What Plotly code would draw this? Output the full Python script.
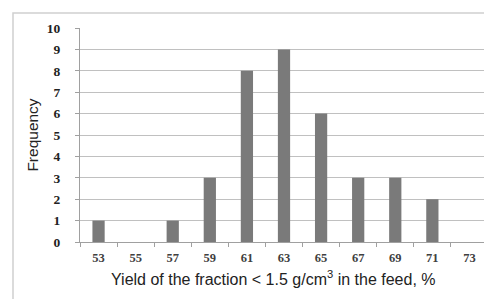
import plotly.graph_objects as go

categories = ["53", "55", "57", "59", "61", "63", "65", "67", "69", "71", "73"]
frequency = [1, 0, 1, 3, 8, 9, 6, 3, 3, 2, 0]
y_ticks = list(range(0, 11))
x_title = "Yield of the fraction < 1.5 g/cm<sup>3</sup> in the feed, %"

fig = go.Figure()
fig.add_trace(go.Bar(
    x=categories, y=frequency,
    marker=dict(color="#7a7a7a", line=dict(width=0)),
    width=0.33,
))

W, H = 492, 299
l, r, t, b = 72, 12, 20, 65
pw, ph = W - l - r, H - t - b

def px(p):
    return (p - l) / pw

def py(q):
    return (H - b - q) / ph

fig.add_shape(type="rect", xref="paper", yref="paper",
              x0=px(5), x1=px(488), y0=py(292), y1=py(5),
              line=dict(color="#d0d0d0", width=1.5), fillcolor="rgba(0,0,0,0)", layer="below")

fig.add_annotation(text=x_title, xref="paper", yref="paper", x=px(265), y=py(270),
                   xanchor="center", yanchor="middle", showarrow=False,
                   font=dict(family="Liberation Sans", size=16, color="#222"))

fig.update_layout(
    width=W, height=H,
    margin=dict(l=l, r=r, t=t, b=b),
    paper_bgcolor="white", plot_bgcolor="white",
    showlegend=False,
    xaxis=dict(
        type="category", tickson="boundaries", ticks="outside", ticklen=4,
        tickcolor="#a0a0a0", showline=True, linecolor="#a0a0a0", linewidth=1,
        showgrid=False, ticklabelstandoff=4,
        tickfont=dict(family="Liberation Serif", size=12.5, color="#404040", weight="bold"),
    ),
    yaxis=dict(
        range=[0, 10], tickvals=y_ticks, ticks="outside", ticklen=4, tickcolor="#a0a0a0",
        showline=True, linecolor="#a0a0a0", linewidth=1, ticklabelstandoff=12,
        showgrid=True, gridcolor="#c0c0c0", gridwidth=1, zeroline=False,
        tickfont=dict(family="Liberation Serif", size=13.5, color="#222", weight="bold"),
        title=dict(text="Frequency", font=dict(family="Liberation Sans", size=15.5, color="#222"), standoff=4),
    ),
)

fig.write_html("out.html")
